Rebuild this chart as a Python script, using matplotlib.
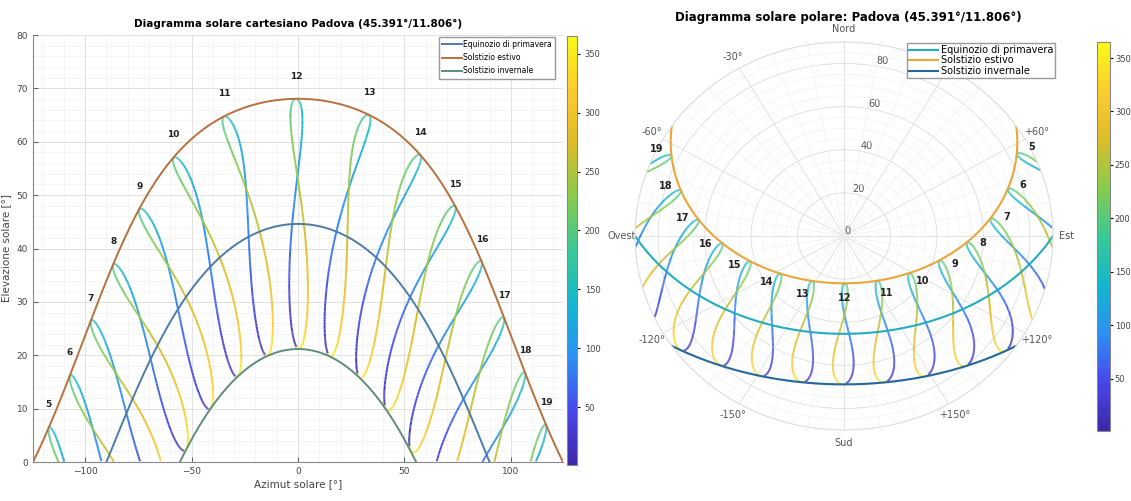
import numpy as np
import matplotlib.pyplot as plt
from matplotlib.collections import LineCollection
from matplotlib.colors import LinearSegmentedColormap, Normalize
from matplotlib.ticker import MultipleLocator, FixedLocator

# site and time grid (read from the title / labels)
LAT = 45.391
LON = 11.806
HOURS = list(range(5, 20))
DAYS = np.arange(1, 366)
CURVE_NAMES = ["Equinozio di primavera", "Solstizio estivo", "Solstizio invernale"]
CURVE_DECL = [0.0, 23.44, -23.44]
SUMMER_DAY = 172
CBAR_TICKS = [50, 100, 150, 200, 250, 300, 350]
THETA_TICKS = [0, 30, 60, 90, 120, 150, 180, 210, 240, 270, 300, 330]
# +30° sits under the legend in the original, so it is left blank
THETA_LABELS = ["Nord", "", "+60°", "Est", "+120°", "+150°", "Sud",
                "-150°", "-120°", "Ovest", "-60°", "-30°"]
R_TICKS = [0, 20, 40, 60, 80]

COLS_CART = ["#4d7ca6", "#b8703f", "#5e8c80"]
COLS_POLAR = ["#22aec0", "#e9a63a", "#24679c"]

parula = LinearSegmentedColormap.from_list("parula", [
    (0.000, (0.2422, 0.1504, 0.6603)),
    (0.125, (0.2803, 0.2782, 0.9221)),
    (0.250, (0.1707, 0.5658, 0.9583)),
    (0.375, (0.0641, 0.7198, 0.8103)),
    (0.500, (0.2250, 0.7870, 0.5900)),
    (0.625, (0.5300, 0.8000, 0.3000)),
    (0.750, (0.8700, 0.7400, 0.1600)),
    (0.875, (0.9900, 0.8000, 0.1800)),
    (1.000, (0.9769, 0.9839, 0.0805)),
])
norm = Normalize(1, 365)


def alt_az(decl, H):
    phi = np.radians(LAT)
    el = np.degrees(np.arcsin(np.sin(phi) * np.sin(decl) + np.cos(phi) * np.cos(decl) * np.cos(H)))
    az = np.degrees(np.arctan2(np.sin(H), np.cos(H) * np.sin(phi) - np.tan(decl) * np.cos(phi)))
    return az, el


def sun_pos(day, hour):
    g = 2 * np.pi / 365 * (day - 1 + (hour - 12) / 24)
    decl = (0.006918 - 0.399912 * np.cos(g) + 0.070257 * np.sin(g) - 0.006758 * np.cos(2 * g)
            + 0.000907 * np.sin(2 * g) - 0.002697 * np.cos(3 * g) + 0.00148 * np.sin(3 * g))
    eot = 229.18 * (0.000075 + 0.001868 * np.cos(g) - 0.032077 * np.sin(g)
                    - 0.014615 * np.cos(2 * g) - 0.040849 * np.sin(2 * g))
    H = np.radians((hour * 60 + eot) / 4 - 180)
    return alt_az(decl, H)


def day_path(decl_deg):
    d = np.radians(decl_deg)
    phi = np.radians(LAT)
    H0 = np.arccos(-np.tan(phi) * np.tan(d))
    return alt_az(d, np.linspace(-H0, H0, 400))


def segs(x, y, c):
    x = np.append(x, x[0]); y = np.append(y, y[0])
    pts = np.column_stack([x, y])
    s = np.stack([pts[:-1], pts[1:]], axis=1)
    ok = ~np.isnan(s).any(axis=(1, 2))
    return s[ok], c[ok]


fig = plt.figure(figsize=(11.31, 5.01), dpi=100)

# ---------------- cartesian ----------------
ax = fig.add_axes([33 / 1131, 39 / 501, 530 / 1131, 427 / 501])
for h in HOURS:
    az, el = sun_pos(DAYS, h)
    az = np.where(el < 0, np.nan, az)
    el = np.where(el < 0, np.nan, el)
    s, c = segs(az, el, DAYS.astype(float))
    lc = LineCollection(s, cmap=parula, norm=norm, linewidth=1.4)
    lc.set_array(c)
    ax.add_collection(lc)
    a0, e0 = sun_pos(SUMMER_DAY, h)
    ax.text(a0, e0 + 4.2, str(h), ha="center", va="center", fontsize=6.5,
            fontweight="bold", color="#222222")

summer_az = None
for name, dec, col in zip(CURVE_NAMES, CURVE_DECL, COLS_CART):
    az, el = day_path(dec)
    ax.plot(az, el, color=col, lw=1.4, label=name)
    if dec > 0:
        summer_az = az

ax.set_xlim(summer_az.min(), summer_az.max())
ax.set_ylim(0, 80)
ax.xaxis.set_major_locator(FixedLocator([-100, -50, 0, 50, 100]))
ax.xaxis.set_minor_locator(MultipleLocator(10))
ax.yaxis.set_major_locator(MultipleLocator(10))
ax.yaxis.set_minor_locator(MultipleLocator(2))
ax.grid(which="major", color="#dcdcdc", lw=0.6)
ax.grid(which="minor", color="#eeeeee", lw=0.4)
ax.set_axisbelow(True)
ax.tick_params(which="both", direction="in", labelsize=6.5, labelcolor="#444444", color="#666666")
ax.tick_params(which="minor", length=0)
for sp in ["top", "right"]:
    ax.spines[sp].set_visible(False)
for sp in ["left", "bottom"]:
    ax.spines[sp].set_color("#888888")
ax.set_xlabel("Azimut solare [°]", fontsize=7.5, color="#444444", labelpad=2)
ax.set_ylabel("Elevazione solare [°]", fontsize=7.5, color="#444444", labelpad=4)
ax.set_title("Diagramma solare cartesiano Padova (45.391°/11.806°)", fontsize=7.5,
             fontweight="bold", pad=6)
ax.legend(loc="upper right", bbox_to_anchor=(555 / 1131, 1 - 37 / 501),
          bbox_transform=fig.transFigure, fontsize=5.5, frameon=True, fancybox=False,
          edgecolor="#999999", handlelength=2.6, borderpad=0.4, labelspacing=0.55,
          handletextpad=0.2, borderaxespad=0, framealpha=1)

cax1 = fig.add_axes([567 / 1131, 36 / 501, 10 / 1131, 429 / 501])
cb1 = fig.colorbar(plt.cm.ScalarMappable(norm=norm, cmap=parula), cax=cax1, ticks=CBAR_TICKS)
cb1.ax.tick_params(labelsize=6, labelcolor="#444444", length=2)
cb1.outline.set_edgecolor("#888888")

# ---------------- polar ----------------
pax = fig.add_axes([635 / 1131, 71 / 501, 418 / 1131, 388 / 501], projection="polar")
pax.set_aspect("auto")
pax.set_theta_zero_location("N")
pax.set_theta_direction(-1)
for h in HOURS:
    az, el = sun_pos(DAYS, h)
    th = np.radians(np.where(el < 0, np.nan, az + 180))
    r = np.where(el < 0, np.nan, 90 - el)
    s, c = segs(th, r, DAYS.astype(float))
    lc = LineCollection(s, cmap=parula, norm=norm, linewidth=1.4)
    lc.set_array(c)
    pax.add_collection(lc)
    a0, e0 = sun_pos(SUMMER_DAY, h)
    pax.text(np.radians(a0 + 180), 90 - e0 + 7, str(h), ha="center", va="center",
             fontsize=7, fontweight="bold", color="#222222")

for name, dec, col in zip(CURVE_NAMES, CURVE_DECL, COLS_POLAR):
    az, el = day_path(dec)
    pax.plot(np.radians(az + 180), 90 - el, color=col, lw=1.5, label=name)

pax.set_rlim(0, 90)
pax.set_thetagrids(THETA_TICKS, THETA_LABELS, fontsize=7, color="#555555")
pax.xaxis.set_minor_locator(FixedLocator(np.radians(np.arange(0, 360, 10))))
pax.set_rticks(R_TICKS)
pax.yaxis.set_minor_locator(FixedLocator(np.arange(0, 91, 5)))
pax.set_rlabel_position(10)
pax.tick_params(axis="y", labelsize=7, labelcolor="#555555")
pax.tick_params(axis="x", pad=-1)
pax.grid(which="major", color="#dddddd", lw=0.6)
pax.grid(which="minor", color="#efefef", lw=0.4)
pax.spines["polar"].set_color("#dddddd")
pax.legend(loc="upper right", bbox_to_anchor=(1055 / 1131, 1 - 43 / 501),
           bbox_transform=fig.transFigure, fontsize=7, frameon=True, fancybox=False,
           edgecolor="#999999", handlelength=3, borderpad=0.2, labelspacing=0.05,
           handletextpad=0.3, borderaxespad=0, framealpha=1)
fig.text(848 / 1131, 1 - 18 / 501, "Diagramma solare polare: Padova (45.391°/11.806°)",
         ha="center", va="center", fontsize=8.5, fontweight="bold")

cax2 = fig.add_axes([1097 / 1131, 70 / 501, 13 / 1131, 389 / 501])
cb2 = fig.colorbar(plt.cm.ScalarMappable(norm=norm, cmap=parula), cax=cax2, ticks=CBAR_TICKS)
cb2.ax.tick_params(labelsize=6, labelcolor="#444444", length=2, pad=1.5)
cb2.outline.set_edgecolor("#888888")

fig.savefig("out.png", dpi=100)
